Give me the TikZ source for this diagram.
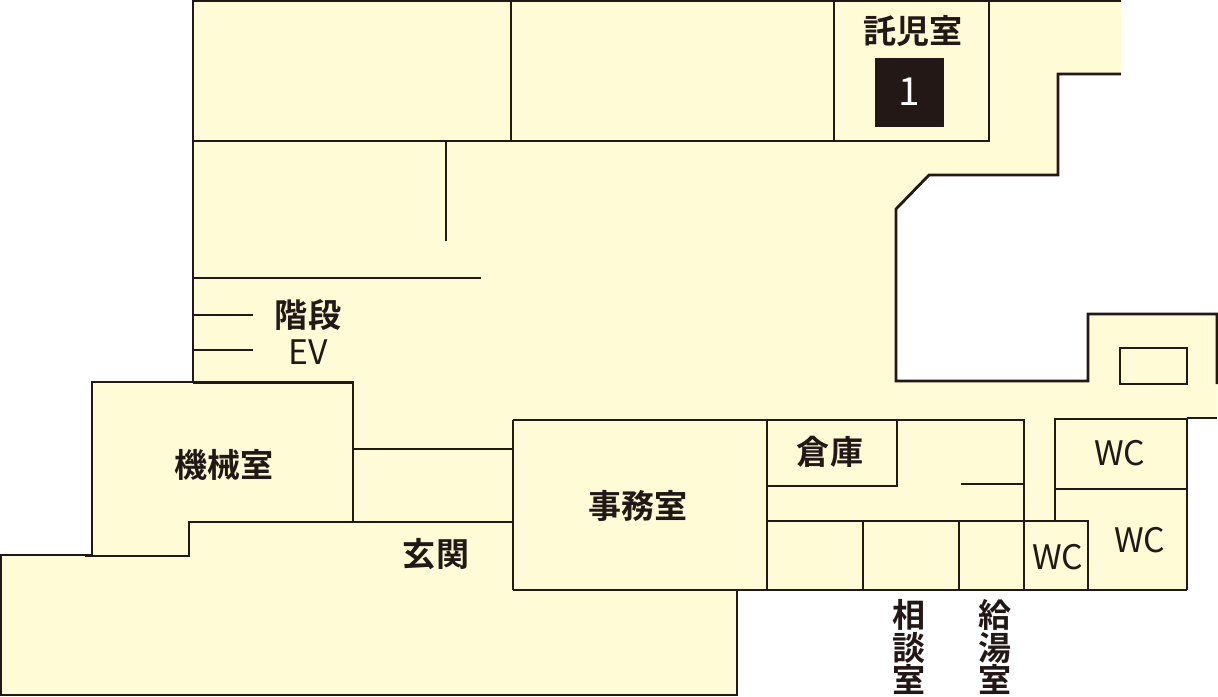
\documentclass[tikz,border=0pt]{standalone}
\usepackage{fontspec}
\setmainfont{Noto Sans CJK JP}[UprightFont=* Bold]
\newfontfamily\lightfont{Noto Sans CJK JP}
\definecolor{plancream}{RGB}{255,251,214}
\definecolor{planink}{RGB}{35,24,21}
\tikzset{
  outerwall/.style={line width=2.8pt*0.2845, color=planink},
  innerwall/.style={line width=2.2pt*0.2845, color=planink},
  roomlabel/.style={text=planink, font=\fontsize{9.4pt}{9.4pt}\selectfont, inner sep=0pt},
  latinlabel/.style={text=planink, font=\lightfont\fontsize{9.6pt}{9.6pt}\selectfont, inner sep=0pt},
  sidelabel/.style={roomlabel, align=center, font=\fontsize{9.4pt}{9.2pt}\selectfont},
}
\begin{document}
\begin{tikzpicture}[x=0.01cm, y=-0.01cm]
\useasboundingbox (0,0) rectangle (1218,696);

% Floor area
\fill[plancream] (193,1) -- (1121,1) -- (1121,74) -- (1058,74) -- (1058,175) -- (929,175) -- (896,209)
  -- (896,381) -- (1088,381) -- (1088,314) -- (1217,314) -- (1217,418) -- (1187,418) -- (1187,589.5)
  -- (737,589.5) -- (737,695) -- (1,695) -- (1,555) -- (92,555) -- (92,382) -- (193,382) -- cycle;

% Outer walls
\draw[outerwall] (1121,1) -- (193,1) -- (193,382);
\draw[outerwall] (193,382) -- (92,382) -- (92,555) -- (1,555) -- (1,695) -- (737,695) -- (737,589.5);
\draw[outerwall] (1121,74) -- (1058,74) -- (1058,175) -- (929,175) -- (896,209) -- (896,381) -- (1088,381)
  -- (1088,314) -- (1217,314) -- (1217,384);
\draw[outerwall] (1217,418) -- (1187,418);

% Top rooms
\draw[innerwall] (193,141) -- (989,141) -- (989,1);
\draw[innerwall] (511,1) -- (511,141);
\draw[innerwall] (834,1) -- (834,141);
\draw[innerwall] (446,141) -- (446,241);

% Stairs and lift
\draw[innerwall] (193,278) -- (481,278);
\draw[innerwall] (193,315) -- (253,315);
\draw[innerwall] (193,350) -- (253,350);

% Machine room and entrance
\draw[innerwall] (193,382.5) -- (353,382.5) -- (353,523);
\draw[innerwall] (353,449) -- (513,449);
\draw[innerwall] (513,522) -- (189,522) -- (189,556) -- (85,556);

% Office
\draw[innerwall] (513,420) -- (513,590);
\draw[innerwall] (513,420) -- (767,420) -- (767,590);

% Store and back rooms
\draw[innerwall] (767,420) -- (1024,420) -- (1024,589);
\draw[innerwall] (767,486) -- (897,486) -- (897,420);
\draw[innerwall] (961,484) -- (1024,484);
\draw[innerwall] (767,521) -- (1088,521) -- (1088,589);
\draw[innerwall] (513,590) -- (1187,590);
\draw[innerwall] (863,521) -- (863,589);
\draw[innerwall] (959,521) -- (959,589);

% Toilets
\draw[innerwall] (1055,521) -- (1055,419) -- (1187,419) -- (1187,590);
\draw[innerwall] (1055,489) -- (1187,489);

% Small box by the stairs on the right
\draw[innerwall] (1120,348) rectangle (1187,384);

% Labels
\node[roomlabel] (nursery) at (913,31) {託児室};
\node[fill=planink, text=white, minimum size=69*0.01cm, inner sep=0pt, font=\lightfont\fontsize{11pt}{11pt}\selectfont] (badge) at (909.5,92) {1};
\node[roomlabel] (stairs) at (308,315) {階段};
\node[latinlabel] (lift) at (308,352) {EV};
\node[roomlabel] (machine) at (224,465) {機械室};
\node[roomlabel] (entrance) at (436,554) {玄関};
\node[roomlabel] (office) at (638,506) {事務室};
\node[roomlabel] (store) at (830,452) {倉庫};
\node[latinlabel] (wca) at (1120,453) {WC};
\node[latinlabel] (wcb) at (1140,540) {WC};
\node[latinlabel] (wcc) at (1058,557) {WC};
\node[sidelabel] (consult) at (909,647) {相\\談\\室};
\node[sidelabel] (kitchen) at (995,647) {給\\湯\\室};
\end{tikzpicture}
\end{document}
